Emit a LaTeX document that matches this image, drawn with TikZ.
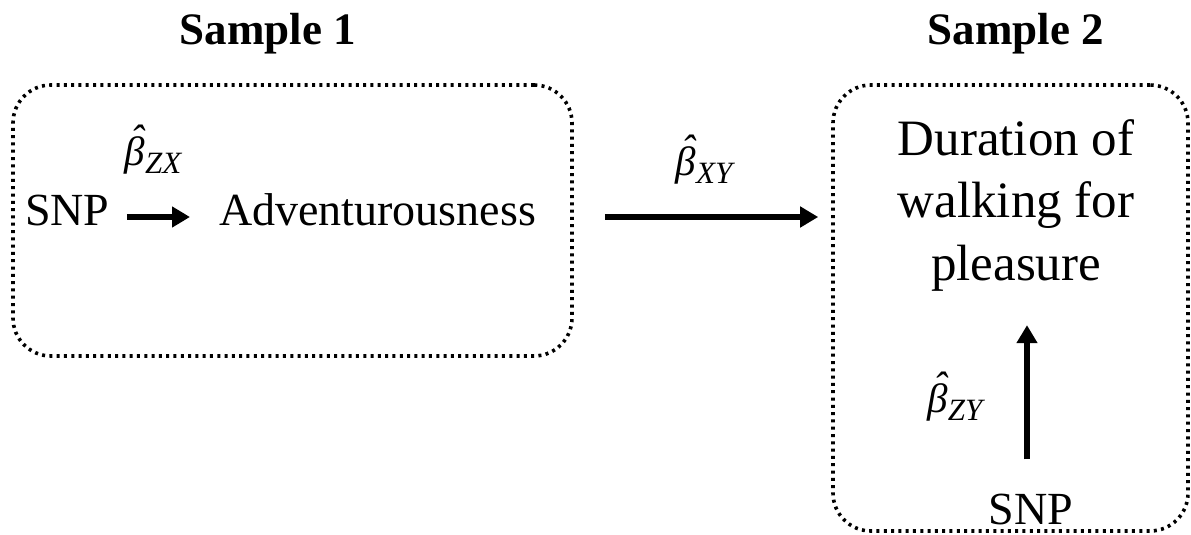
\RequirePackage{fix-cm}
\documentclass[tikz,border=0pt]{standalone}
\usepackage{fontspec}
\setmainfont{Liberation Serif}
\usetikzlibrary{arrows.meta}
\newcommand{\bhat}[1]{{\itshape\ooalign{β\cr\hidewidth\kern0.12em\raisebox{0.3em}{\char"02C6}\hidewidth\cr}}\raisebox{-0.2em}{\fontsize{31}{31}\selectfont\itshape #1}}
\tikzset{
  samplebox/.style={draw, line width=3.6pt, dash pattern=on 3pt off 4.3pt, rounded corners=38pt, inner sep=0pt},
  title/.style={font=\fontsize{45}{54}\selectfont\bfseries, inner sep=0pt},
  label/.style={font=\fontsize{46}{56}\selectfont, inner sep=0pt},
  biglabel/.style={font=\fontsize{51}{62.5}\selectfont, inner sep=0pt},
  coef/.style={font=\fontsize{41}{48}\selectfont, inner sep=0pt},
  arr/.style={line width=5.5pt, -{Triangle[length=18pt,width=20pt]}}
}
\begin{document}
\begin{tikzpicture}[x=1pt,y=-1pt]
\useasboundingbox (0,0) rectangle (1191,535);
\node[title, anchor=base] (t1) at (268,45) {Sample 1};
\node[title, anchor=base] (t2) at (1016,45) {Sample 2};
\node[samplebox, minimum width=559pt, minimum height=271pt] (box1) at (292.5,220.5) {};
\node[samplebox, minimum width=355pt, minimum height=446pt] (box2) at (1010.5,308) {};
\node[label, anchor=base west] (snp1) at (25,225) {SNP};
\node[label, anchor=base west] (adv) at (219,225) {Adventurousness};
\draw[arr, shorten <=17pt, shorten >=29pt] ([yshift=-7pt]snp1.east) -- ([yshift=-7pt]snp1.east -| adv.west);
\node[coef] (bzx) at (153,155) {\bhat{ZX}};
\draw[arr, shorten <=31pt, shorten >=13pt] ([yshift=3.5pt]box1.east) -- ([yshift=3.5pt]box1.east -| box2.west);
\node[coef] (bxy) at (704,165) {\bhat{XY}};
\node[biglabel, align=center, anchor=north] (dur) at (1016,119) {Duration of\\walking for\\pleasure};
\node[label, anchor=base] (snp2) at (1031,524) {SNP};
\draw[arr, shorten <=34pt, shorten >=34pt] (snp2.north -| 1027,0) -- (dur.south -| 1027,0);
\node[coef] (bzy) at (955,402) {\bhat{ZY}};
\end{tikzpicture}
\end{document}
